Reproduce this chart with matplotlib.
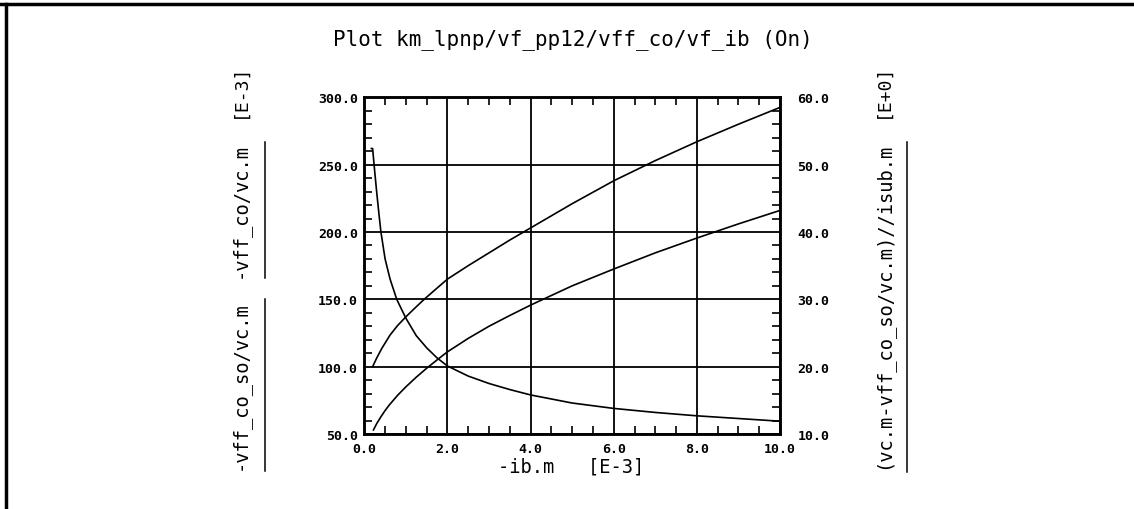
import matplotlib
matplotlib.use("Agg")
import matplotlib.pyplot as plt
from matplotlib.lines import Line2D
from matplotlib.ticker import MultipleLocator, FormatStrFormatter

# data (x in units of 1e-3)
x_co = [0.2, 0.3, 0.42, 0.62, 0.8, 1.0, 1.2, 1.44, 1.7, 2.0, 2.5, 3.0, 3.5, 4.0, 5.0, 6.0, 7.0, 8.0, 9.0, 10.0]
y_co = [100, 106.5, 113.5, 123.5, 130.5, 137, 143, 150, 157, 165, 175, 184.5, 194, 203, 221, 238, 253, 267, 280, 292.5]

x_co_so = [0.22, 0.3, 0.4, 0.5, 0.6, 0.8, 1.0, 1.25, 1.5, 1.75, 2.0, 2.5, 3.0, 3.5, 4.0, 5.0, 6.0, 7.0, 8.0, 9.0, 10.0]
y_co_so = [53, 57.8, 62.8, 67.4, 71.5, 78.7, 85, 92.2, 98.8, 105, 111, 121, 130, 138, 145.7, 160, 172.5, 184.5, 195.5, 206, 216]

x_ratio = [0.17, 0.2, 0.25, 0.3, 0.35, 0.4, 0.5, 0.62, 0.78, 1.0, 1.25, 1.5, 1.75, 2.0, 2.5, 3.0, 3.5, 4.0, 5.0, 6.0, 7.0, 8.0, 9.0, 10.0]
y_ratio = [52.4, 52.4, 49.0, 45.8, 42.8, 40.0, 36.0, 33.0, 30.0, 27.2, 24.6, 22.8, 21.3, 20.1, 18.6, 17.5, 16.6, 15.8, 14.6, 13.8, 13.2, 12.7, 12.3, 11.9]

title = "Plot km_lpnp/vf_pp12/vff_co/vf_ib (On)"
left_label_1 = "-vff_co/vc.m"
left_label_2 = "-vff_co_so/vc.m"
right_label = "(vc.m-vff_co_so/vc.m)//isub.m"

W, H = 1134, 510
mono = "DejaVu Sans Mono"

fig = plt.figure(figsize=(W / 100, H / 100), dpi=100)
fig.patch.set_facecolor("white")

def fx(px):
    return px / W

def fy(py):
    return 1 - py / H

ax = fig.add_axes([fx(364.3), fy(435), fx(780) - fx(364.3), fy(98.3) - fy(435)])
ax.plot(x_co, y_co, color="k", lw=1.2)
ax.plot(x_co_so, y_co_so, color="k", lw=1.2)
ax.set_xlim(0, 10)
ax.set_ylim(50, 300)
ax.xaxis.set_major_locator(MultipleLocator(2))
ax.xaxis.set_minor_locator(MultipleLocator(0.5))
ax.yaxis.set_major_locator(MultipleLocator(50))
ax.yaxis.set_minor_locator(MultipleLocator(10))
ax.xaxis.set_major_formatter(FormatStrFormatter("%.1f"))
ax.yaxis.set_major_formatter(FormatStrFormatter("%.1f"))
ax.grid(True, which="major", color="k", lw=1.3)
ax.tick_params(which="both", direction="in", top=True, color="k", width=1.2)
ax.tick_params(which="minor", length=6)
ax.tick_params(which="major", length=0)
ax.tick_params(axis="x", pad=5.5)
ax.tick_params(axis="y", pad=4.5)
for s in ax.spines.values():
    s.set_linewidth(1.8)

ax2 = ax.twinx()
ax2.plot(x_ratio, y_ratio, color="k", lw=1.2)
ax2.set_ylim(10, 60)
ax2.yaxis.set_major_locator(MultipleLocator(10))
ax2.yaxis.set_minor_locator(MultipleLocator(2))
ax2.yaxis.set_major_formatter(FormatStrFormatter("%.1f"))
ax2.tick_params(which="both", direction="in", color="k", width=1.2)
ax2.tick_params(which="minor", length=6)
ax2.tick_params(which="major", length=0, pad=12.5)
for s in ax2.spines.values():
    s.set_linewidth(1.8)

for a in (ax, ax2):
    for lab in a.get_xticklabels() + a.get_yticklabels():
        lab.set_fontfamily(mono)
        lab.set_fontweight("bold")
        lab.set_fontsize(9.5)

txt = dict(family=mono, color="k", ha="center", va="center")
fig.text(fx(573), fy(40), title, fontsize=15, **txt)
fig.text(fx(571), fy(467), "-ib.m   [E-3]", fontsize=13.5, **txt)

fig.text(fx(240), fy(91), "[E-3]", fontsize=13, rotation=90, **txt)
fig.text(fx(240), fy(211), left_label_1, fontsize=13.5, rotation=90, **txt)
fig.text(fx(240), fy(386), left_label_2, fontsize=13.5, rotation=90, **txt)
fig.text(fx(883), fy(91), "[E+0]", fontsize=13, rotation=90, **txt)
fig.text(fx(883), fy(306), right_label, fontsize=13.5, rotation=90, **txt)

# line samples beside the axis labels
for xp, y0, y1 in [(265, 143, 279), (265, 300, 472), (907, 143, 473)]:
    fig.add_artist(Line2D([fx(xp)] * 2, [fy(y0), fy(y1)], transform=fig.transFigure, color="k", lw=1.1))

# page frame (top and left edges)
fig.add_artist(Line2D([0, 1], [fy(5)] * 2, transform=fig.transFigure, color="k", lw=2.5))
fig.add_artist(Line2D([fx(6)] * 2, [0, fy(5)], transform=fig.transFigure, color="k", lw=2.5))

fig.savefig("out.png", dpi=100)
